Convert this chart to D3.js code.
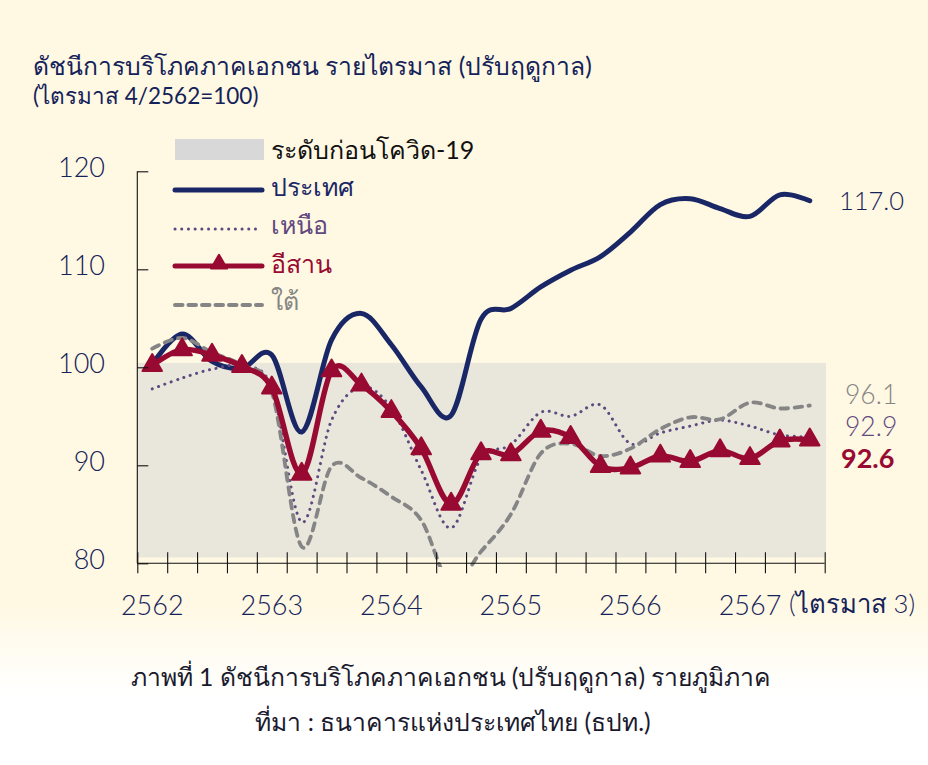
<!DOCTYPE html>
<html lang="th"><head><meta charset="utf-8">
<script src="https://cdn.jsdelivr.net/npm/d3@7/dist/d3.min.js"></script>
<style>html,body{margin:0;padding:0;background:#fff}svg{display:block}text{font-family:"Lato","Noto Sans","Noto Sans CJK SC",sans-serif}</style>
</head><body><svg id="c" width="928" height="765"></svg>
<script>
const titleLines = ["ดัชนีการบริโภคภาคเอกชน รายไตรมาส (ปรับฤดูกาล)", "(ไตรมาส 4/2562=100)"];
const captionLines = ["ภาพที่ 1 ดัชนีการบริโภคภาคเอกชน (ปรับฤดูกาล) รายภูมิภาค", "ที่มา : ธนาคารแห่งประเทศไทย (ธปท.)"];
const years = ["2562","2563","2564","2565","2566","2567"];
const quarterCount = 23;
const yTicks = [80,90,100,110,120];
const covidBand = [80.6,100.45];
const national = [100.3,103.4,100.6,99.9,101.25,93.4,102.8,105.5,102.3,98,95.1,104.9,106,108.2,109.9,111.3,113.8,116.6,117.2,116.2,115.4,117.6,117.0];
const north = [97.8,98.9,99.8,100.1,97.9,84.2,94.6,98,95.8,89.5,83.6,90.7,92.1,95.4,95,96.15,92.2,93.3,94,94.6,94,93.1,92.9];
const northeast = [100.2,101.8,101.25,100.1,97.9,89.1,99.65,98.2,95.5,91.7,86.05,91.2,91.1,93.5,92.85,89.9,89.75,90.95,90.4,91.5,90.7,92.5,92.6];
const south = [101.9,103,101.5,100.2,97.5,81.7,89.9,88.7,86.8,84.4,77.8,81.2,85,91.2,92.2,90.95,91.7,93.7,94.9,94.7,96.4,95.8,96.1];
const seriesNames = ["ประเทศ","เหนือ","อีสาน","ใต้"];
const bandName = "ระดับก่อนโควิด-19";
const endLabels = ["117.0","96.1","92.9","92.6"];
const yearSuffix = "(ไตรมาส 3)";

const svg = d3.select("#c");
const navy="#1a2766", red="#980a32", gray="#858585", purple="#5f4a80", ink="#14225a";
const defs = svg.append("defs");
const g = defs.append("linearGradient").attr("id","bg").attr("x1",0).attr("x2",0).attr("y1",0).attr("y2",1);
[[0,"#fff8e2"],[0.785,"#fff8e2"],[0.91,"#ffffff"],[1,"#ffffff"]].forEach(s=>g.append("stop").attr("offset",s[0]).attr("stop-color",s[1]));
svg.append("rect").attr("width",928).attr("height",765).attr("fill","url(#bg)");

const xE = d3.scaleLinear().domain([0,quarterCount]).range([137.3,824.7]);
const x = i => xE(i+0.5);
const y = d3.scaleLinear().domain([80,120]).range([563.3,171.3]);

svg.append("rect").attr("x",xE(0)).attr("y",y(covidBand[1])).attr("width",826-xE(0)).attr("height",y(covidBand[0])-y(covidBand[1])).attr("fill","#e9e6dc");

defs.append("clipPath").attr("id","plot").append("rect").attr("x",130).attr("y",160).attr("width",700).attr("height",407);
const line = d3.line().x((d,i)=>x(i)).y(d=>y(d)).curve(d3.curveCatmullRom.alpha(0));
const plot = svg.append("g").attr("clip-path","url(#plot)");
const style = (p,c,w,dash)=>p.attr("fill","none").attr("stroke",c).attr("stroke-width",w).attr("stroke-linecap","round").attr("stroke-linejoin","round").attr("stroke-dasharray",dash||null);
style(plot.append("path").attr("d",line(national)),navy,5);
style(plot.append("path").attr("d",line(north)),purple,3,"0.1 6.6");
style(plot.append("path").attr("d",line(south)),gray,3.8,"7.5 6.5");
style(plot.append("path").attr("d",line(northeast)),red,5.4);
const tri = d3.symbol().type(d3.symbolTriangle).size(165);
svg.append("g").selectAll("path").data(northeast).join("path").attr("d",tri)
 .attr("transform",(d,i)=>`translate(${x(i)},${y(d)})`).attr("fill",red).attr("stroke",red).attr("stroke-width",2).attr("stroke-linejoin","round");

// axes
const ay = svg.append("g").attr("transform",`translate(${xE(0)},0)`).call(d3.axisLeft(y).tickValues(yTicks).tickSize(11).tickFormat(""));
ay.selectAll(".tick line").attr("x2",11).attr("stroke","#111").attr("stroke-width",1.1);
ay.select(".domain").attr("stroke","#111").attr("stroke-width",1.1).attr("d",`M0,${y(120)}V${y(80)}`);
const ax = svg.append("g").attr("transform",`translate(0,${y(80)})`).call(d3.axisBottom(xE).tickValues(d3.range(quarterCount+1)).tickSize(10).tickFormat(""));
ax.selectAll(".tick line").attr("y1",-11).attr("stroke","#111").attr("stroke-width",1.1);
ax.select(".domain").attr("stroke","#111").attr("stroke-width",1.1).attr("d",`M${xE(0)},0H${xE(quarterCount)}`);

const T=(s,xp,yp,size,col,anchor,weight)=>svg.append("text").attr("x",xp).attr("y",yp).attr("font-size",size).attr("fill",col).attr("text-anchor",anchor||"start").attr("font-weight",weight||400).text(s);
T(titleLines[0],33,75,24.7,ink);
T(titleLines[1],33,104,22.5,ink);
yTicks.forEach(v=>T(v,105,y(v)+6,27,ink,"end",300));
years.forEach((s,i)=>T(s,x(i*4),615,27,ink,"middle",300));
T(yearSuffix,789,613,25.7,ink,"start",300);
// legend
svg.append("rect").attr("x",175).attr("y",139).attr("width",89).attr("height",21).attr("fill","#d8d8d8");
T(bandName,271,159,25,"#111");
const lg=(yp,c,w,d)=>style(svg.append("line").attr("x1",175).attr("x2",262).attr("y1",yp).attr("y2",yp),c,w,d);
lg(190,navy,5);
lg(229,purple,3,"0.1 6.6");
lg(266,red,5);
svg.append("path").attr("d",d3.symbol().type(d3.symbolTriangle).size(110)).attr("transform","translate(219,264)").attr("fill",red).attr("stroke",red).attr("stroke-width",2).attr("stroke-linejoin","round");
lg(305,gray,4,"7.5 6");
T(seriesNames[0],271,196,25,navy);
T(seriesNames[1],271,234,25,purple);
T(seriesNames[2],271,273,25,red);
T(seriesNames[3],271,310,25,gray);
T(endLabels[0],839,210,25.5,ink,"start",300);
T(endLabels[1],845,404,26.5,gray,"start",300);
T(endLabels[2],845,436,26.5,purple,"start",300);
T(endLabels[3],841,468,27,red,"start",700);
T(captionLines[0],451,686,24.7,"#1a1a2e","middle");
T(captionLines[1],453,731,24.7,"#1a1a2e","middle");
</script></body></html>
